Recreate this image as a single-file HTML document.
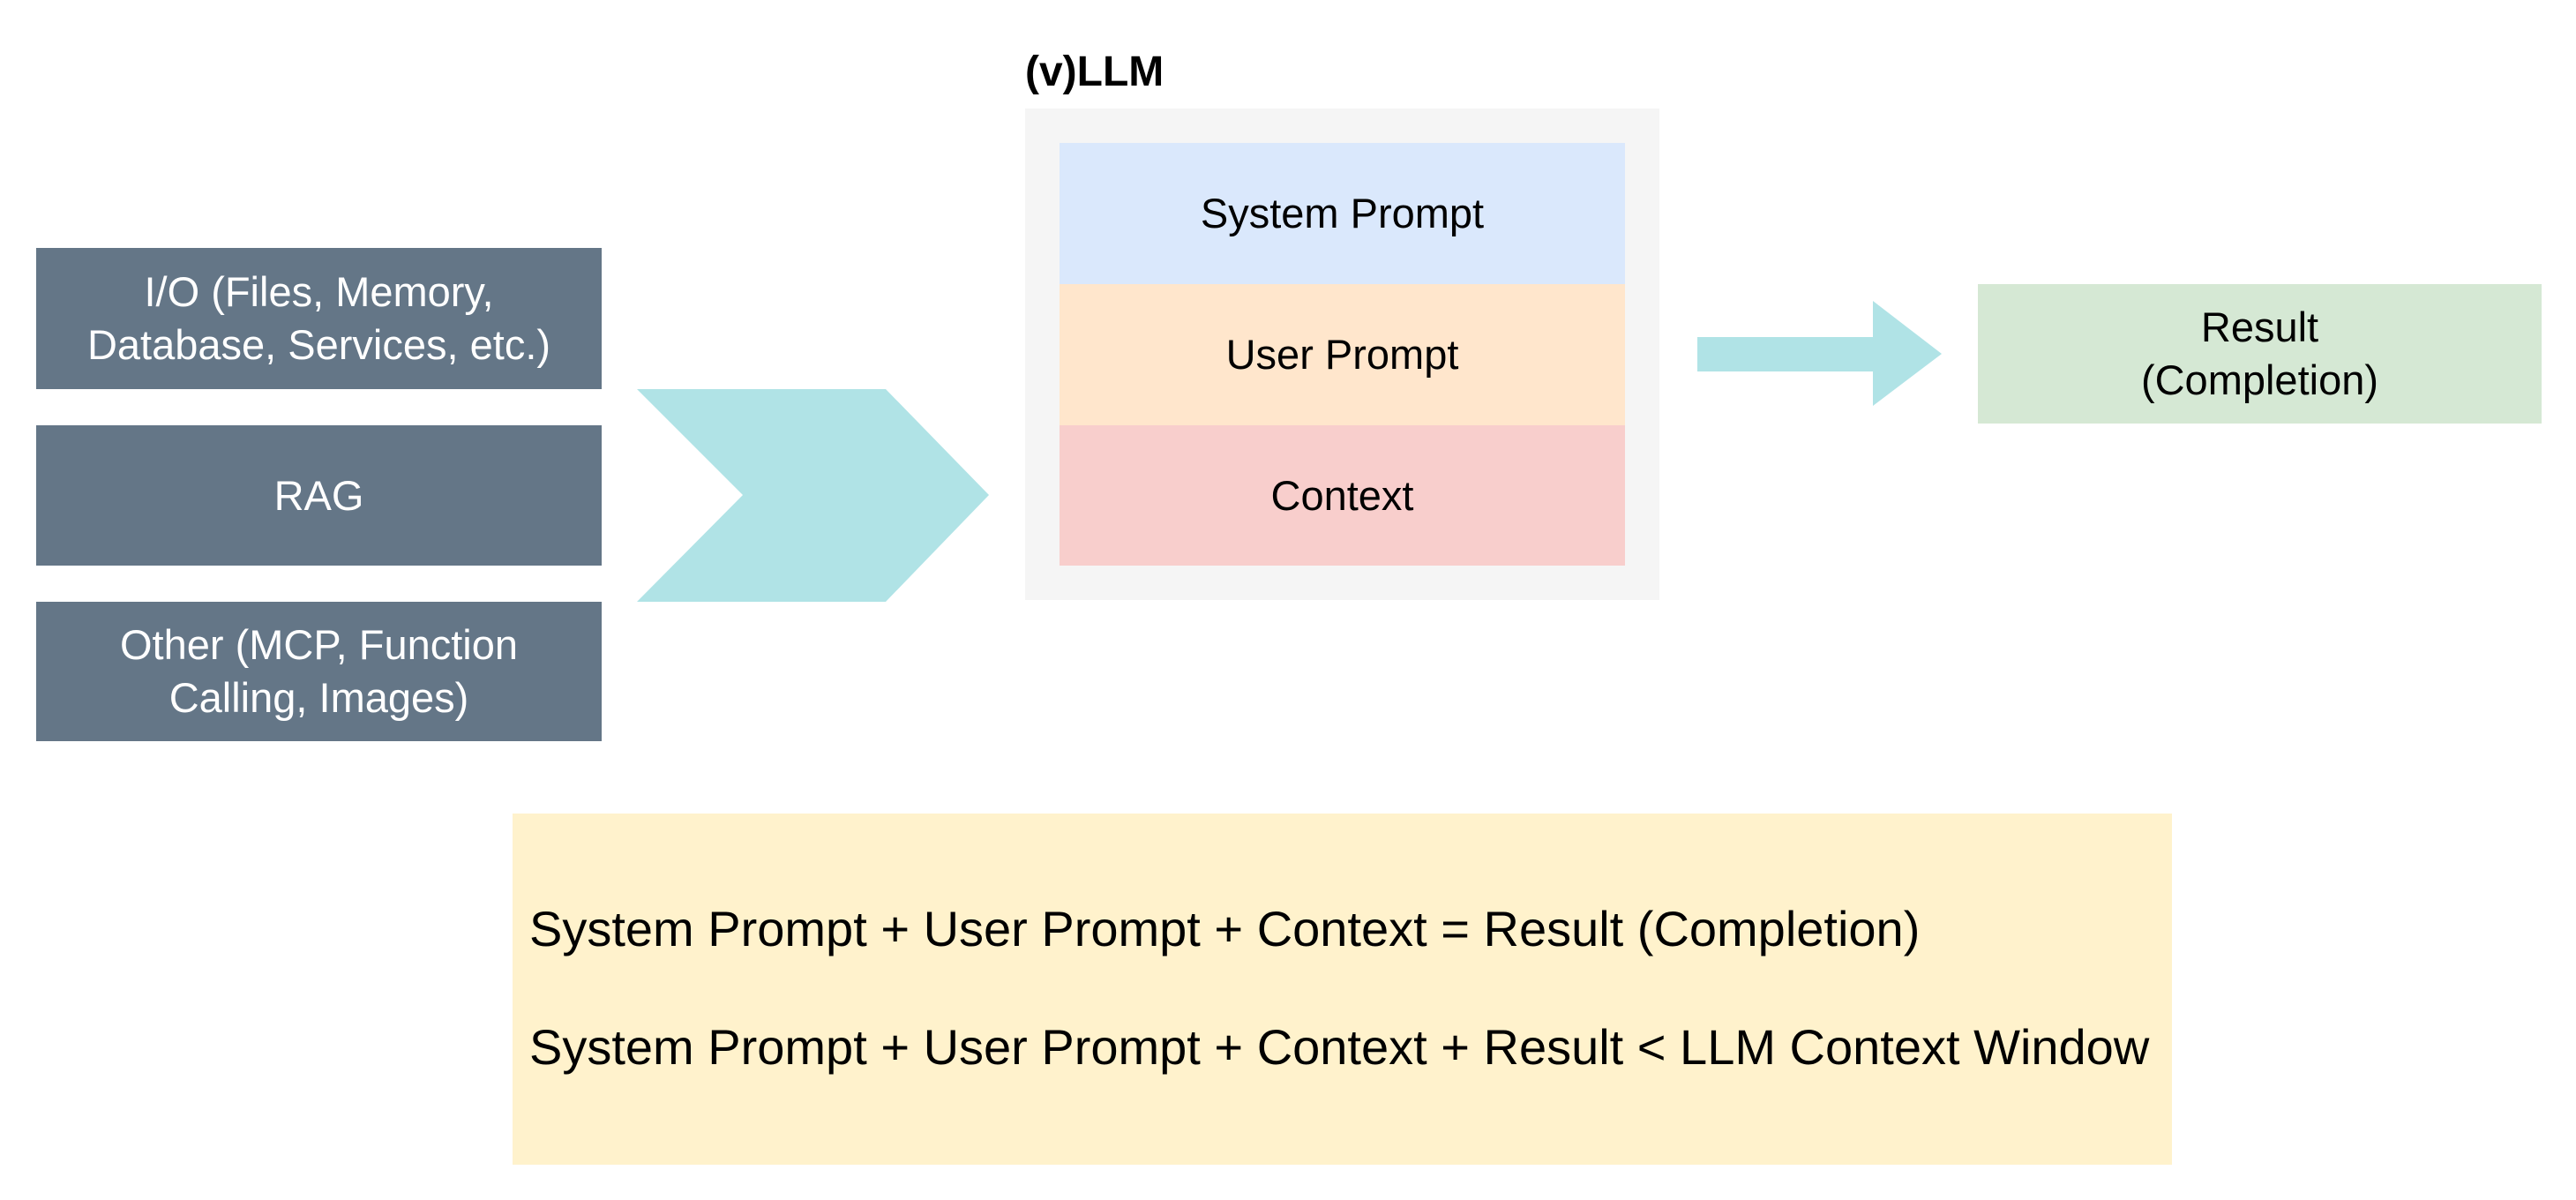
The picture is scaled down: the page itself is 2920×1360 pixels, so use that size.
<!DOCTYPE html>
<html><head><meta charset="utf-8"><style>
body{margin:0;width:2920px;height:1360px;background:#fff;position:relative;overflow:hidden;font-family:"Liberation Sans",Arial,sans-serif}
.b{position:absolute;display:flex;align-items:center;justify-content:center;text-align:center;font-size:47px;line-height:60px}
.d{background:#647687;color:#fff}
</style></head><body>
<div class="b d" style="left:41px;top:281px;width:641px;height:160px">I/O (Files, Memory,<br>Database, Services, etc.)</div>
<div class="b d" style="left:41px;top:482px;width:641px;height:159px">RAG</div>
<div class="b d" style="left:41px;top:682px;width:641px;height:158px">Other (MCP, Function<br>Calling, Images)</div>
<svg style="position:absolute;left:0;top:0" width="2920" height="1360">
<polygon points="722,441 1004,441 1121,561 1004,682 722,682 842,561" fill="#b0e3e6"/>
<polygon points="1924,382 2123,382 2123,341 2201,401 2123,460 2123,421 1924,421" fill="#b0e3e6"/>
</svg>
<div style="position:absolute;left:1162px;top:54px;font-size:48px;font-weight:bold">(v)LLM</div>
<div style="position:absolute;left:1162px;top:123px;width:719px;height:557px;background:#f5f5f5"></div>
<div class="b" style="left:1201px;top:162px;width:641px;height:160px;background:#dae8fc">System Prompt</div>
<div class="b" style="left:1201px;top:322px;width:641px;height:160px;background:#ffe6cc">User Prompt</div>
<div class="b" style="left:1201px;top:482px;width:641px;height:159px;background:#f8cecc">Context</div>
<div class="b" style="left:2242px;top:322px;width:639px;height:158px;background:#d5e8d4">Result<br>(Completion)</div>
<div style="position:absolute;left:581px;top:922px;width:1881px;height:398px;background:#fff2cc;font-size:56px">
<div style="position:absolute;left:19px;top:98px;white-space:nowrap">System Prompt + User Prompt + Context = Result (Completion)</div>
<div style="position:absolute;left:19px;top:232px;white-space:nowrap">System Prompt + User Prompt + Context + Result &lt; LLM Context Window</div>
</div>
</body></html>
